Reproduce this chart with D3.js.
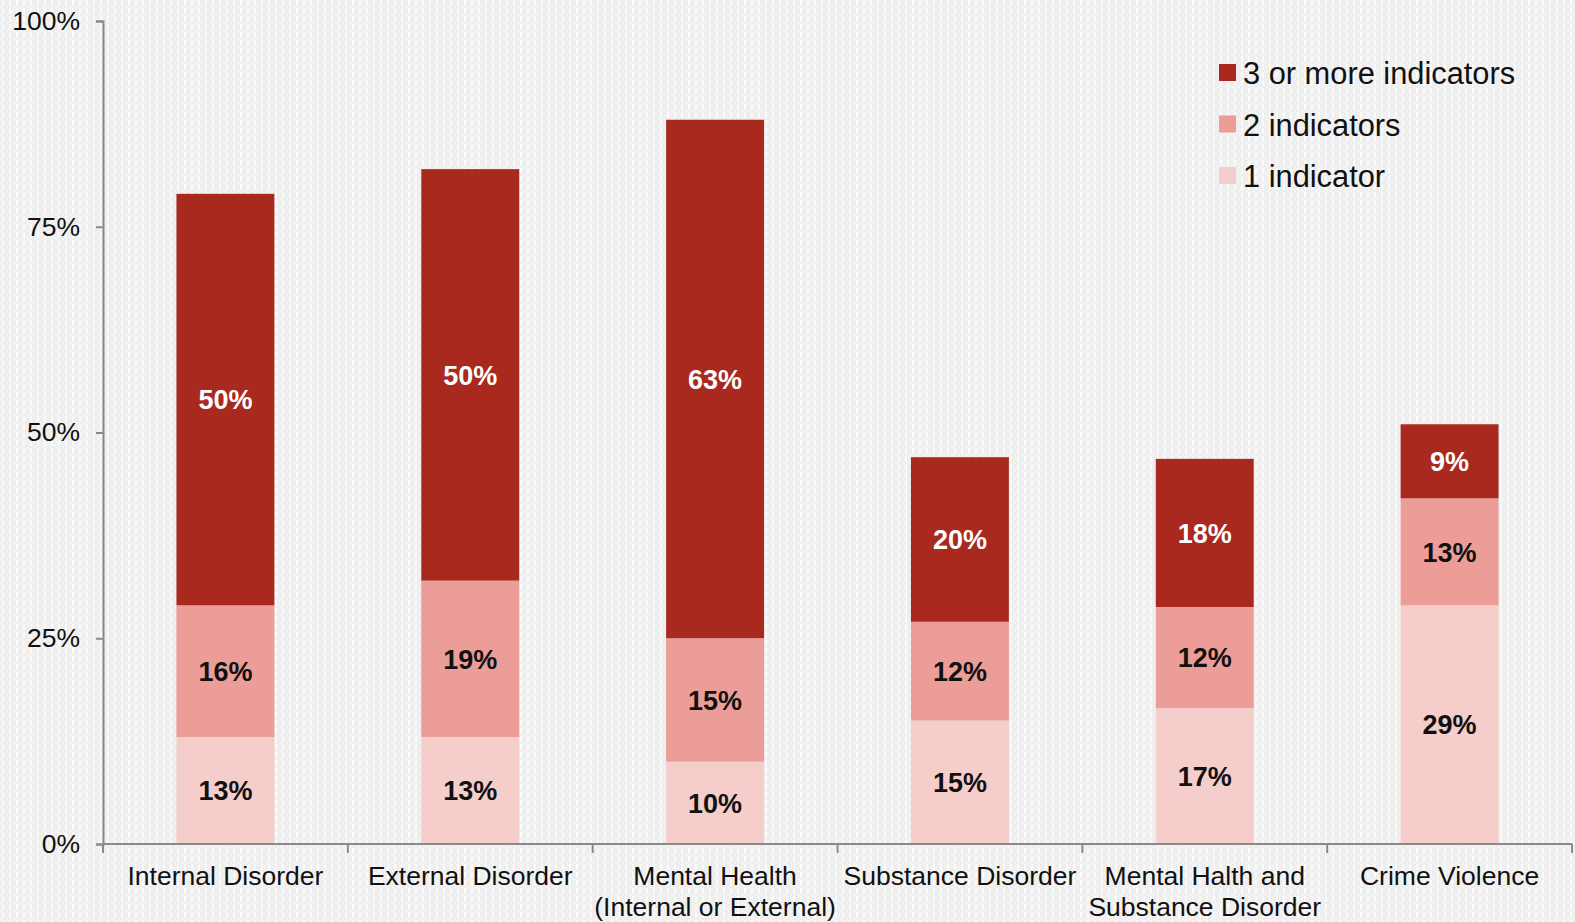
<!DOCTYPE html>
<html>
<head>
<meta charset="utf-8">
<script src="https://cdn.jsdelivr.net/npm/d3@7"></script>
<style>
  html, body { margin: 0; padding: 0; background: #f1f1f1; }
  svg { display: block; }
</style>
</head>
<body>
<div id="chart"></div>
<script>
// data
const categories = [
    ["Internal Disorder"],
    ["External Disorder"],
    ["Mental Health", "(Internal or External)"],
    ["Substance Disorder"],
    ["Mental Halth and", "Substance Disorder"],
    ["Crime Violence"]
];
const series = ["1 indicator", "2 indicators", "3 or more indicators"];
const oneIndicator = [13, 13, 10, 15, 16.5, 29];
const twoIndicators = [16, 19, 15, 12, 12.3, 13];
const threeIndicators = [50, 50, 63, 20, 18, 9];
const yTicks = [0, 25, 50, 75, 100];

const colors = ["#f5cecb", "#ec9d97", "#a9291f"];
const labelColors = ["#111", "#111", "#fff"];

const width = 1575;
const height = 922;
const margin = {top: 21, right: 3, bottom: 78, left: 103};
const font = "'Liberation Sans', Arial, sans-serif";

const svg = d3.select("#chart").append("svg")
    .attr("width", width)
    .attr("height", height)
    .attr("viewBox", `0 0 ${width} ${height}`);

// dotted background texture
const defs = svg.append("defs");
const pat = defs.append("pattern")
    .attr("id", "bg")
    .attr("width", 7)
    .attr("height", 8)
    .attr("patternUnits", "userSpaceOnUse");
pat.append("rect").attr("width", 7).attr("height", 8).attr("fill", "#efefef");
pat.append("rect").attr("x", 2).attr("width", 2).attr("height", 6).attr("fill", "#fafafa");
pat.append("rect").attr("x", 0).attr("y", 7).attr("width", 1).attr("height", 1).attr("fill", "#ffffff");

svg.append("rect")
    .attr("width", width)
    .attr("height", height)
    .attr("fill", "url(#bg)");

const rows = categories.map((c, i) => ({
    key: i,
    s0: oneIndicator[i],
    s1: twoIndicators[i],
    s2: threeIndicators[i]
}));
const stacked = d3.stack().keys(["s0", "s1", "s2"])(rows);

const x = d3.scaleBand()
    .domain(d3.range(categories.length))
    .range([margin.left, width - margin.right])
    .paddingInner(0)
    .paddingOuter(0);

const y = d3.scaleLinear()
    .domain([0, 100])
    .range([height - margin.bottom, margin.top]);

const barW = x.bandwidth() * 0.4;

// bars
const layers = svg.append("g")
    .selectAll("g")
    .data(stacked)
    .join("g")
    .attr("fill", (d, i) => colors[i]);

layers.selectAll("rect")
    .data(d => d)
    .join("rect")
    .attr("x", d => x(d.data.key) + (x.bandwidth() - barW) / 2)
    .attr("width", barW)
    .attr("y", d => y(d[1]))
    .attr("height", d => y(d[0]) - y(d[1]));

// value labels
stacked.forEach((layer, li) => {
    svg.append("g")
        .selectAll("text")
        .data(layer)
        .join("text")
        .attr("x", d => x(d.data.key) + x.bandwidth() / 2)
        .attr("y", d => (y(d[0]) + y(d[1])) / 2)
        .attr("dy", "0.36em")
        .attr("text-anchor", "middle")
        .style("font-family", font)
        .style("font-weight", "bold")
        .style("font-size", "27px")
        .style("fill", labelColors[li])
        .text(d => Math.round(d[1] - d[0]) + "%");
});

// y axis
const yAxis = svg.append("g")
    .attr("transform", `translate(${margin.left},0)`)
    .call(d3.axisLeft(y).tickValues(yTicks).tickFormat(d => d + "%").tickSize(7).tickPadding(16));
yAxis.selectAll("path, line").attr("stroke", "#8a8a8a").attr("stroke-width", 2);
yAxis.selectAll("text")
    .style("font-family", font)
    .style("font-size", "26.5px")
    .style("fill", "#111");

// x axis
const xAxis = svg.append("g")
    .attr("transform", `translate(0,${y(0)})`);
xAxis.append("line")
    .attr("x1", margin.left)
    .attr("x2", width - margin.right)
    .attr("stroke", "#8a8a8a")
    .attr("stroke-width", 2);
const bounds = d3.range(categories.length + 1).map(i => margin.left + i * x.step());
xAxis.selectAll(".tk")
    .data(bounds)
    .join("line")
    .attr("class", "tk")
    .attr("x1", d => d)
    .attr("x2", d => d)
    .attr("y1", 0)
    .attr("y2", 9)
    .attr("stroke", "#8a8a8a")
    .attr("stroke-width", 2);

const xl = xAxis.selectAll(".xl")
    .data(categories)
    .join("text")
    .attr("class", "xl")
    .attr("x", (d, i) => x(i) + x.bandwidth() / 2)
    .attr("y", 41)
    .attr("text-anchor", "middle")
    .style("font-family", font)
    .style("font-size", "26.5px")
    .style("fill", "#111");
xl.selectAll("tspan")
    .data(d => d)
    .join("tspan")
    .attr("x", function() { return d3.select(this.parentNode).attr("x"); })
    .attr("dy", (d, i) => i === 0 ? 0 : 31)
    .text(d => d);

// legend
const legendOrder = [2, 1, 0];
const legend = svg.append("g")
    .attr("transform", "translate(1219,73)");
const li = legend.selectAll("g")
    .data(legendOrder)
    .join("g")
    .attr("transform", (d, i) => `translate(0,${i * 51.5})`);
li.append("rect")
    .attr("x", 0)
    .attr("y", -9)
    .attr("width", 17)
    .attr("height", 17)
    .attr("fill", d => colors[d]);
li.append("text")
    .attr("x", 24)
    .attr("y", 0)
    .attr("dy", "0.36em")
    .style("font-family", font)
    .style("font-size", "30.8px")
    .style("fill", "#111")
    .text(d => series[d]);
</script>
</body>
</html>
